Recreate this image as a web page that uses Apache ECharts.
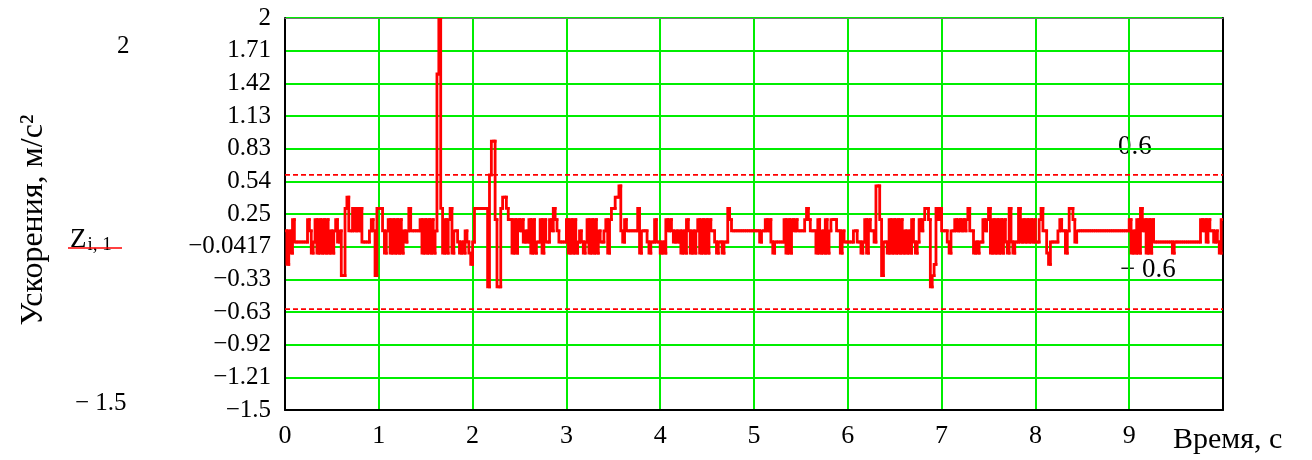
<!DOCTYPE html>
<html>
<head>
<meta charset="utf-8">
<title>Ускорения</title>
<script src="https://cdn.jsdelivr.net/npm/echarts@6/dist/echarts.min.js"></script>
<style>
  html, body { margin: 0; padding: 0; background: #fff; }
  #chart { width: 1312px; height: 460px; }
</style>
</head>
<body>
<div id="chart"></div>
<script>
// sampling step, s
var dt = 0.02

// acceleration samples, m/s^2, one array per second
var sec0 = [0.1,-0.2,0.1,-0.1,0.2,0,0,0,0,0,0,0,0.2,0.1,-0.1,0,0.2,-0.1,0.2,-0.1,0.2,-0.1,0.2,-0.1,0.1,-0.1,0.1,0.2,0,0.1,-0.3,-0.3,0.3,0.4,0.1,0.1,0.3,0.1,0.3,0.1,0.3,0,0,0,0,0.1,0.2,0.1,-0.3,0.3]
var sec1 = [0.3,0.3,0.1,-0.1,0.1,0.2,-0.1,0.2,-0.1,0.2,-0.1,0.2,-0.1,0.1,0,0.1,0.3,0.1,0.1,0.1,0.1,0.1,0.2,-0.1,0.2,-0.1,0.2,-0.1,0.2,-0.1,0.1,1.5,2.0,0.3,-0.1,0.2,-0.1,0.2,0.3,-0.1,0.1,0.1,0,-0.1,0,-0.1,0.1,0,-0.1,-0.2]
var sec2 = [0,0.3,0.3,0.3,0.3,0.3,0.3,0.3,-0.4,0.6,0.9,0.9,0.2,-0.4,-0.4,0.3,0.4,0.4,0.3,0.2,0.2,-0.1,0.2,-0.1,0.2,0.1,0.2,0,0.1,0,0.2,-0.1,0.2,-0.1,0,0,0.2,-0.1,0.2,0,0,0.2,0.1,0.3,0.2,0.1,0,0,0,0]
var sec3 = [0.2,-0.1,0.2,-0.1,0.2,-0.1,0,0.1,0,-0.1,0,0.2,-0.1,0.2,-0.1,0.2,-0.1,0.1,0,0,0.1,0.2,-0.1,0.2,0.3,0.3,0.4,0.4,0.5,0.1,0,0.2,0.1,0.1,0.1,0.1,0.1,0.1,0.3,-0.1,0.1,0.1,0.1,0,-0.1,0,0,0.2,0,0]
var sec4 = [-0.1,0,-0.1,0.2,0.1,0.2,0.1,0,0.1,0,0.1,-0.1,0.1,-0.1,0.2,0.1,-0.1,0.1,-0.1,0.1,0.2,-0.1,0.2,-0.1,0.2,-0.1,0.2,0.1,0.1,0,-0.1,0,0,-0.1,0,0,0.3,0.2,0.1,0.1,0.1,0.1,0.1,0.1,0.1,0.1,0.1,0.1,0.1,0.1]
var sec5 = [0.1,0.1,0.1,0,0.1,0.1,0.2,0.1,0.2,0,-0.1,0,0,0,0,0,0.2,-0.1,0.2,-0.1,0.2,0.1,0.2,0.1,0.1,0.1,0.1,0.2,0.3,0.2,0.1,0.1,0.1,-0.1,0.2,-0.1,0.1,-0.1,0.2,-0.1,0.1,0.2,0.2,0.2,0.1,0.1,-0.1,0.1,0,0]
var sec6 = [0,0,0,0.1,0.1,0,0,-0.1,0,0.2,-0.1,0.2,0.1,0.1,0,0.5,0.5,0.2,-0.3,0,0,-0.1,0.2,-0.1,0.2,-0.1,0.2,-0.1,0.2,-0.1,0.1,-0.1,0.1,-0.1,0.2,0,-0.1,0,0.2,0.1,0.2,0.3,0.3,0.2,-0.4,-0.3,-0.2,0.3,0.2,0.3]
var sec7 = [0.1,0.1,0.1,0,-0.1,0.1,0.1,0.2,0.1,0.2,0.1,0.2,0.1,0.2,0.3,0.1,0.1,-0.1,0,-0.1,0,0,0.2,0.1,0.2,0.3,-0.1,0.2,-0.1,0.2,-0.1,0.2,-0.1,0.2,0,-0.1,0.3,0,-0.1,0,0,0.3,0,0.2,0,0.2,0,0.2,0,0.2]
var sec8 = [0,0,0.2,0.3,0.1,0.1,-0.1,-0.2,0,0,0,0,0.1,0.2,0.1,0.1,-0.1,0.1,0.3,0.3,0.2,0,0.1,0.1,0.1,0.1,0.1,0.1,0.1,0.1,0.1,0.1,0.1,0.1,0.1,0.1,0.1,0.1,0.1,0.1,0.1,0.1,0.1,0.1,0.1,0.1,0.1,0.1,0.1,0.1]
var sec9 = [0.2,-0.1,0.1,-0.1,0.2,-0.1,0.3,0.1,0.2,-0.1,0.2,-0.1,0.2,0,0,0,0,0,0,0,0,0,0,-0.1,0,0,0,0,0,0,0,0,0,0,0,0,0,0,0.2,0.1,0.2,0,0.2,0.1,0.1,0,0.1,0,-0.1,0.2,0.2]

// limit lines
var limitUp = 0.6
var limitDown = -0.6

// axis ticks
var yMin = -1.5
var yMax = 2
var yStep = 3.5 / 12
var yTickLabels = ['\u22121.5', '\u22121.21', '\u22120.92', '\u22120.63', '\u22120.33', '\u22120.0417', '0.25', '0.54', '0.83', '1.13', '1.42', '1.71', '2']
var xTickLabels = ['0', '1', '2', '3', '4', '5', '6', '7', '8', '9', '']
var xMin = 0
var xMax = 10

var samples = [].concat(sec0, sec1, sec2, sec3, sec4, sec5, sec6, sec7, sec8, sec9)
// [time, value, previous value] - each sample is held until the next one
var seriesData = samples.map(function (v, i) { return [i * dt, v, i > 0 ? samples[i - 1] : v] })

var serif = 'Liberation Serif, DejaVu Serif, serif'
var green = '#00ee00'

function renderStep(params, api) {
	var t = api.value(0)
	var p0 = api.coord([t, api.value(2)])
	var p1 = api.coord([t, api.value(1)])
	var p2 = api.coord([t + dt, api.value(1)])
	return {
		type: 'polyline',
		shape: { points: [p0, p1, p2] },
		style: { stroke: '#ff0000', lineWidth: 2.8, fill: null, lineJoin: 'miter', lineCap: 'square' }
	}
}

var chart = echarts.init(document.getElementById('chart'), null, { renderer: 'canvas' })
chart.setOption({
	animation: false,
	backgroundColor: '#fff',
	grid: { left: 285, top: 18, width: 938, height: 392, show: false },
	xAxis: [{
		type: 'value', min: xMin, max: xMax, interval: 1,
		axisLine: { show: true, onZero: false, lineStyle: { color: '#000', width: 2 } },
		axisTick: { show: false },
		splitLine: { show: true, lineStyle: { color: green, width: 2 } },
		axisLabel: {
			margin: 13, color: '#000', fontFamily: serif, fontSize: 26,
			formatter: function (v) { return xTickLabels[Math.round(v)] }
		}
	}, {
		type: 'value', min: xMin, max: xMax, position: 'top', z: 1,
		axisLine: { show: true, onZero: false, lineStyle: { color: '#777', width: 1 } },
		axisTick: { show: false }, axisLabel: { show: false }, splitLine: { show: false }
	}],
	yAxis: [{
		type: 'value', min: yMin, max: yMax, interval: yStep,
		axisLine: { show: true, onZero: false, lineStyle: { color: '#000', width: 2 } },
		axisTick: { show: false },
		splitLine: { show: true, lineStyle: { color: green, width: 2 } },
		axisLabel: {
			margin: 14, color: '#000', fontFamily: serif, fontSize: 25,
			formatter: function (v) { return yTickLabels[Math.round((v - yMin) / yStep)] }
		}
	}, {
		type: 'value', min: yMin, max: yMax, position: 'right', z: 1,
		axisLine: { show: true, onZero: false, lineStyle: { color: '#000', width: 2 } },
		axisTick: { show: false }, axisLabel: { show: false }, splitLine: { show: false }
	}],
	series: [{
		name: 'Z',
		type: 'custom',
		renderItem: renderStep,
		data: seriesData,
		encode: { x: 0, y: 1 },
		clip: true,
		silent: true,
		z: 3
	}, {
		type: 'line',
		data: [[xMin, limitUp], [xMax, limitUp]],
		showSymbol: false, silent: true, z: 2,
		lineStyle: { color: '#ff0000', type: [5, 3], width: 1.8 }
	}, {
		type: 'line',
		data: [[xMin, limitDown], [xMax, limitDown]],
		showSymbol: false, silent: true, z: 2,
		lineStyle: { color: '#ff0000', type: [5, 3], width: 1.8 }
	}],
	graphic: [
		{ type: 'text', x: 1118, y: 147, style: { text: '0.6', font: '27px ' + serif, fill: '#000', verticalAlign: 'middle' } },
		{ type: 'text', x: 1120, y: 270, style: { text: '\u2212 0.6', font: '27px ' + serif, fill: '#000', verticalAlign: 'middle' } },
		{ type: 'text', x: 1173, y: 440, style: { text: 'Время, с', font: '30px ' + serif, fill: '#000', verticalAlign: 'middle' } },
		{ type: 'text', x: 117, y: 46, style: { text: '2', font: '25px ' + serif, fill: '#000', verticalAlign: 'middle' } },
		{ type: 'text', x: 75, y: 403, style: { text: '\u2212 1.5', font: '25px ' + serif, fill: '#000', verticalAlign: 'middle' } },
		{
			type: 'text', x: 70, y: 224,
			style: {
				text: '{z|Z}{s|i, 1}',
				rich: {
					z: { font: '27px ' + serif, fill: '#000' },
					s: { font: '19px ' + serif, fill: '#000', padding: [12, 0, 0, 1] }
				}
			}
		},
		{ type: 'line', shape: { x1: 68, y1: 248, x2: 122, y2: 248 }, style: { stroke: '#ff0000', lineWidth: 1.5 } },
		{
			type: 'text', x: 34, y: 220, rotation: Math.PI / 2,
			style: {
				text: 'Ускорения, м/с²', font: '32px ' + serif, fill: '#000',
				align: 'center', verticalAlign: 'middle'
			}
		}
	]
})
</script>
</body>
</html>
